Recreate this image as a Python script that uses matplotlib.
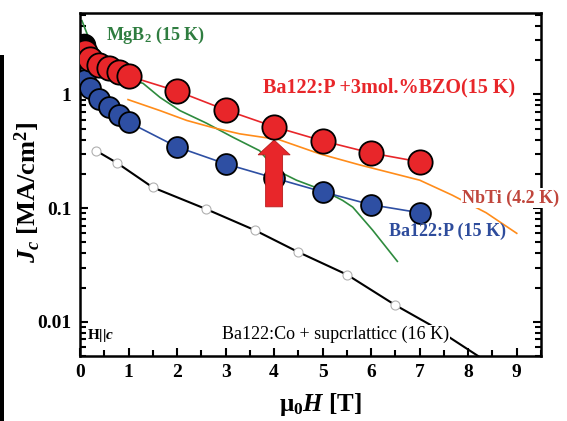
import numpy as np
import matplotlib
matplotlib.use("Agg")
import matplotlib.pyplot as plt
from matplotlib.ticker import MultipleLocator, FuncFormatter, LogLocator
from matplotlib.patches import FancyArrow, Rectangle

plt.rcParams['font.family'] = ['Liberation Serif', 'DejaVu Serif']
plt.rcParams['font.weight'] = 'bold'
plt.rcParams['mathtext.fontset'] = 'custom'
plt.rcParams['mathtext.rm'] = 'Liberation Serif:bold'
plt.rcParams['mathtext.it'] = 'Liberation Serif:bold:italic'
plt.rcParams['mathtext.bf'] = 'Liberation Serif:bold'

# Ba122:P + 3mol.% BZO (15 K)
bzo_h = [0.1, 0.2, 0.4, 0.6, 0.8, 1.0, 2, 3, 4, 5, 6, 7]
bzo_jc = [2.35, 2.04, 1.80, 1.70, 1.57, 1.45, 1.07, 0.73, 0.52, 0.39, 0.305, 0.255]

# Ba122:P (15 K)
p_h = [0.1, 0.2, 0.4, 0.6, 0.8, 1.0, 2, 3, 4, 5, 6, 7]
p_jc = [1.33, 1.14, 0.91, 0.77, 0.66, 0.57, 0.345, 0.245, 0.184, 0.139, 0.107, 0.091]

# Ba122:Co + superlattice (16 K)
co_h = [0.33, 0.76, 1.5, 2.6, 3.6, 4.5, 5.5, 6.5, 7.2, 8.3]
co_jc = [0.32, 0.25, 0.152, 0.098, 0.064, 0.041, 0.026, 0.014, 0.0095, 0.0047]
co_mark_h = co_h[:8]
co_mark_jc = co_jc[:8]
co_zero_h = [0.08]
co_zero_jc = [2.7]

# MgB2 (15 K)
mgb2_h = [0.04, 0.2, 0.62, 1.09, 1.3, 1.65, 2.06, 2.6, 3.15, 3.7, 4.05, 4.46,
          5.0, 5.41, 5.62, 6.03, 6.54]
mgb2_jc = [4.45, 2.98, 1.87, 1.33, 1.25, 0.94, 0.72, 0.56, 0.42, 0.32, 0.215,
           0.176, 0.144, 0.117, 0.102, 0.064, 0.034]

# NbTi (4.2 K)
nbti_h = [0.99, 1.65, 2.2, 2.74, 3.29, 4.1, 4.94, 5.76, 7.0, 7.67, 8.37, 9.0]
nbti_jc = [0.9, 0.72, 0.59, 0.51, 0.45, 0.40, 0.30, 0.24, 0.176, 0.13, 0.091, 0.06]

# enhancement arrow (field, jc bottom, jc tip, head base)
arrow_h = 4.0
arrow_jc = [0.1026, 0.397, 0.294]

red = '#e8262a'
blue = '#2e4fa3'
green = '#2e8b3e'
orange = '#ff8c1a'

fig = plt.figure(figsize=(5.67, 4.21), dpi=100)
ax = fig.add_axes([80 / 567, 1 - 356 / 421, 461 / 567, 343 / 421])

ax.plot(mgb2_h, mgb2_jc, '-', color=green, lw=1.2, zorder=2)
ax.plot(nbti_h, nbti_jc, '-', color=orange, lw=1.2, zorder=2)
ax.plot(co_h, co_jc, '-', color='black', lw=1.5, zorder=2)
ax.plot(co_mark_h, co_mark_jc, 'o', ms=6.5, mfc='white', mec='#b0b0b0', mew=0.8, zorder=3)
ax.plot(co_zero_h, co_zero_jc, 'o', ms=16, mfc='black', mec='black', zorder=3)
ax.plot(p_h, p_jc, '-', color=blue, lw=1.2, zorder=3)
ax.plot(p_h, p_jc, 'o', ms=15, mfc=blue, mec='black', mew=1.3, zorder=4)

arr = FancyArrow(arrow_h, arrow_jc[0], 0, arrow_jc[1] - arrow_jc[0],
                 width=0.35, head_width=0.66, head_length=arrow_jc[1] - arrow_jc[2],
                 length_includes_head=True, fc=red, ec='#b81c1c', lw=0.6, zorder=5)
ax.add_patch(arr)

ax.plot(bzo_h, bzo_jc, '-', color=red, lw=1.2, zorder=6)
ax.plot(bzo_h, bzo_jc, 'o', ms=17.5, mfc=red, mec='black', mew=1.3, zorder=7)

# labels
ax.text(0.53, 3.3, 'MgB$_\\mathrm{2}$ (15 K)', color='#2f7d40', fontsize=13,
        ha='left', va='center', zorder=8)
ax.text(3.77, 1.16, 'Ba122:P +3mol.%BZO(15 K)', color=red, fontsize=14.5,
        ha='left', va='center', zorder=8)
ax.text(7.88, 0.123, 'NbTi (4.2 K)', color='#c0463c', fontsize=13,
        ha='left', va='center', zorder=8, clip_on=False,
        bbox=dict(fc='white', ec='none', pad=1))
ax.text(6.36, 0.062, 'Ba122:P (15 K)', color='#2e4c9c', fontsize=13,
        ha='left', va='center', zorder=8)
ax.text(2.92, 0.0077, 'Ba122:Co + supcrlatticc (16 K)', color='black',
        fontsize=13, fontweight='normal', ha='left', va='center', zorder=8,
        bbox=dict(fc='white', ec='none', pad=1))
ax.text(0.14, 0.0075, 'H||$c$', color='black', fontsize=11,
        ha='left', va='center', zorder=8)

ax.set_yscale('log')
ax.set_xlim(0, 9.5)
ax.set_ylim(0.005, 5.2)
ax.xaxis.set_major_locator(MultipleLocator(1))
ax.xaxis.set_minor_locator(MultipleLocator(0.5))
ax.yaxis.set_major_locator(LogLocator(base=10))
ax.yaxis.set_major_formatter(FuncFormatter(lambda v, _: f'{v:g}'))
ax.tick_params(which='both', direction='in', right=True, top=False, width=1.5)
ax.tick_params(which='major', length=6, labelsize=14, pad=6)
ax.tick_params(which='minor', length=4)
for s in ax.spines.values():
    s.set_linewidth(1.8)

fig.text(320 / 567, 1 - 405 / 421, 'μ$_\\mathrm{0}$$H$ [T]', fontsize=18,
         ha='center', va='center')
fig.text(28 / 567, 1 - 192 / 421, '$J_c$ [MA/cm$^\\mathrm{2}$]', fontsize=19,
         rotation=90, ha='center', va='center')

fig.patches.append(Rectangle((0, 0), 4 / 567, (421 - 55) / 421,
                             transform=fig.transFigure, fc='black', ec='none'))

fig.savefig('out.png', dpi=100)
